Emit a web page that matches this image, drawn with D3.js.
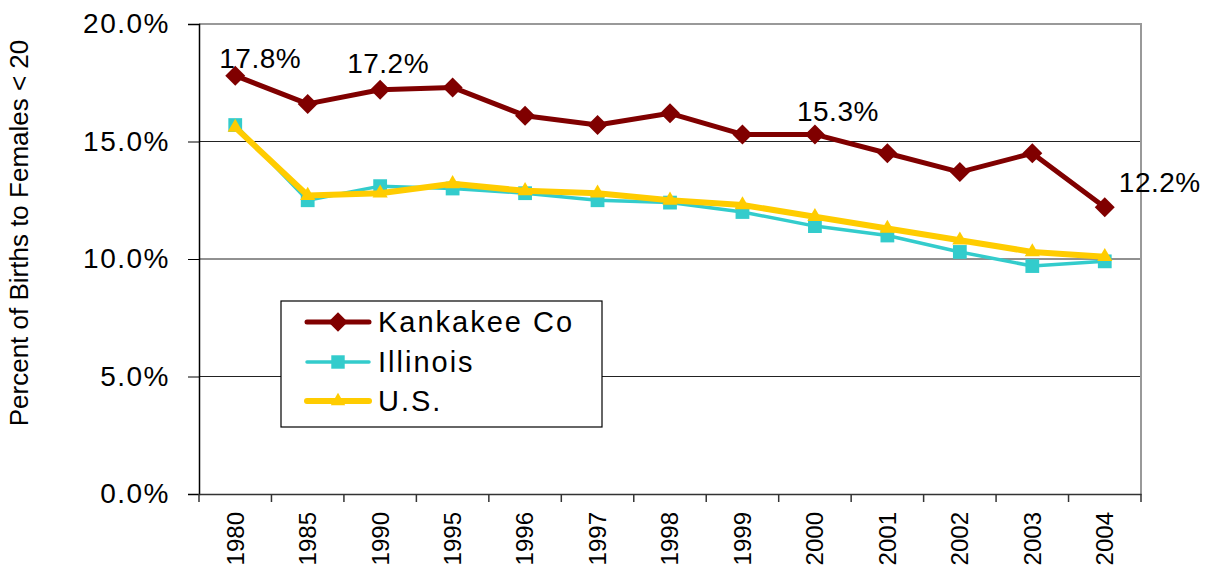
<!DOCTYPE html>
<html><head><meta charset="utf-8">
<script src="https://cdn.jsdelivr.net/npm/d3@7"></script>
<style>
body{margin:0;background:#fff;}
svg{display:block;font-family:"Liberation Sans",Arial,sans-serif;}
</style></head>
<body><svg id="c" width="1207" height="571"></svg>
<script>
const years = ["1980","1985","1990","1995","1996","1997","1998","1999","2000","2001","2002","2003","2004"];
const kankakee = [17.8,16.6,17.2,17.3,16.1,15.7,16.2,15.3,15.3,14.5,13.7,14.5,12.2];
const illinois = [15.7,12.5,13.1,13.0,12.8,12.5,12.4,12.0,11.4,11.0,10.3,9.7,9.9];
const us = [15.6,12.7,12.8,13.2,12.9,12.8,12.5,12.3,11.8,11.3,10.8,10.3,10.1];
const yTicks = [0,5,10,15,20];
const labeledYears = ["1980","1990","2000","2004"];
const seriesNames = ["Kankakee Co","Illinois","U.S."];

const svg = d3.select("#c");
const L=199,R=1141,T=24,B=494;
const x = d3.scaleBand().domain(years).range([L,R]);
const y = d3.scaleLinear().domain([0,20]).range([B,T]);

// gridlines
svg.append("g").selectAll("line").data(yTicks.filter(d=>d>0&&d<20)).join("line")
  .attr("x1",L).attr("x2",R).attr("y1",d=>y(d)).attr("y2",d=>y(d))
  .attr("stroke","#222").attr("stroke-width",1);
// top/right border
svg.append("path").attr("d",`M${L},${T}H${R}V${B}`).attr("fill","none").attr("stroke","#999").attr("stroke-width",2);

// y axis
const ya = svg.append("g").attr("transform",`translate(${L},0)`)
  .call(d3.axisLeft(y).tickValues(yTicks).tickSize(11).tickPadding(18).tickFormat(d=>d3.format(".1f")(d)+"%"));
ya.select(".domain").attr("stroke","#000").attr("stroke-width",1.5);
ya.selectAll(".tick line").attr("stroke","#000");
ya.selectAll("text").attr("font-size",28).attr("fill","#000").attr("font-family","Liberation Sans, Arial").style("letter-spacing","1.5px");

// x axis
const xa = svg.append("g").attr("transform",`translate(0,${B})`)
  .call(d3.axisBottom(x).tickSize(0).tickFormat(d=>d));
xa.select(".domain").attr("stroke","#333").attr("stroke-width",1.5);
xa.selectAll(".tick text").attr("font-size",24).attr("fill","#000").attr("font-family","Liberation Sans, Arial")
  .attr("text-anchor","end").attr("transform","translate(0,18) rotate(-90)").attr("x",0).attr("y",0).attr("dy","0.35em");
// boundary ticks
svg.append("g").selectAll("line").data(years.map(d=>x(d)).concat([R])).join("line")
  .attr("x1",d=>d).attr("x2",d=>d).attr("y1",B).attr("y2",B+8).attr("stroke","#333").attr("stroke-width",1.5);

// y axis title
svg.append("text").attr("transform","translate(28,233) rotate(-90)").attr("text-anchor","middle")
  .attr("font-size",26).attr("fill","#000").text("Percent of Births to Females < 20");

const cx = d=>x(d)+x.bandwidth()/2;
const line = d3.line().x((d,i)=>cx(years[i])).y(d=>y(d));

const styles = [
  {data:kankakee,color:"#800000",w:5,sym:d3.symbolSquare,size:200,rot:45},
  {data:illinois,color:"#33CCCC",w:3.5,sym:d3.symbolSquare,size:190,rot:0},
  {data:us,color:"#FFCC00",w:6,sym:d3.symbolTriangle,size:100,rot:0}
];
// draw order: Illinois, US, Kankakee
[1,2,0].forEach(k=>{
  const s=styles[k];
  svg.append("path").datum(s.data).attr("d",line).attr("fill","none").attr("stroke",s.color)
    .attr("stroke-width",s.w).attr("stroke-linejoin","round");
  svg.append("g").selectAll("path").data(s.data).join("path")
    .attr("transform",(d,i)=>`translate(${cx(years[i])},${y(d)}) rotate(${s.rot})`)
    .attr("d",d3.symbol(s.sym,s.size)).attr("fill",s.color);
});

// data labels
const lblOff = {"1980":[25,-8],"1990":[8,-17],"2000":[23,-13],"2004":[55,-15]};
svg.append("g").selectAll("text").data(labeledYears).join("text")
  .attr("x",d=>cx(d)+lblOff[d][0]).attr("y",d=>y(kankakee[years.indexOf(d)])+lblOff[d][1])
  .attr("text-anchor","middle").attr("font-size",28).attr("fill","#000").style("letter-spacing","0.5px")
  .text(d=>d3.format(".1f")(kankakee[years.indexOf(d)])+"%");

// legend
const lg = svg.append("g");
lg.append("rect").attr("x",281).attr("y",301).attr("width",321).attr("height",126)
  .attr("fill","#fff").attr("stroke","#000").attr("stroke-width",1.2);
const rowY=[322,362,401];
styles.forEach((s,i)=>{
  lg.append("line").attr("x1",307).attr("x2",369).attr("y1",rowY[i]).attr("y2",rowY[i])
    .attr("stroke",s.color).attr("stroke-width",s.w).attr("stroke-linecap","round");
  lg.append("path").attr("transform",`translate(338,${rowY[i]}) rotate(${s.rot})`)
    .attr("d",d3.symbol(s.sym,i===2?90:s.size*0.95)).attr("fill",s.color);
  lg.append("text").attr("x",378).attr("y",rowY[i]).attr("dy","0.36em").attr("font-size",29)
    .style("letter-spacing","2px").attr("fill","#000").text(seriesNames[i]);
});
</script></body></html>
